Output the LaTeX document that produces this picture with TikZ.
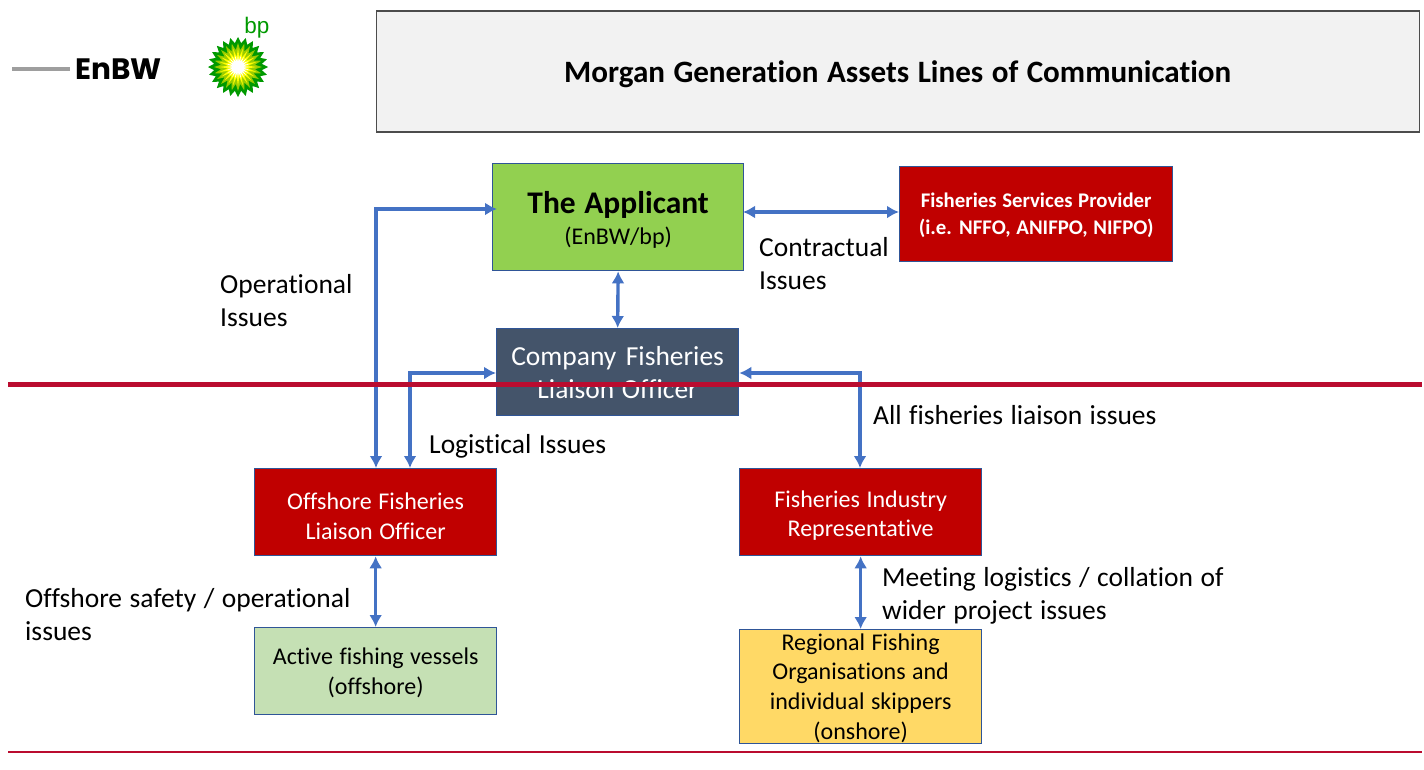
\documentclass[tikz,border=0pt]{standalone}
\usepackage{fontspec}
\setmainfont{Carlito}[Ligatures=NoCommon,WordSpace=1.2]
\newfontfamily\logofont{Poppins}
\newfontfamily\bpfont{Liberation Sans}
\usetikzlibrary{arrows.meta}
\definecolor{cblue}{HTML}{4472C4}
\definecolor{cborder}{HTML}{2F5597}
\definecolor{cred}{HTML}{C00000}
\definecolor{cline}{HTML}{BA0C2F}
\definecolor{cgreen}{HTML}{92D050}
\definecolor{cslate}{HTML}{44546A}
\definecolor{cpale}{HTML}{C5E0B4}
\definecolor{cyellow}{HTML}{FFD966}
\definecolor{bpdark}{HTML}{009900}
\definecolor{bpmid}{HTML}{99CC00}
\definecolor{bpyel}{HTML}{FFFF00}
\tikzset{
 x=1pt,y=-1pt,
 boxn/.style={draw=cborder,line width=1.3pt,minimum width=#1,inner sep=0pt,anchor=north west},
 boxn/.default=242pt,
 inbox/.style={align=center,inner sep=0pt},
 lab/.style={font=\fontsize{27.5}{33}\selectfont,align=left,anchor=west,inner sep=0pt,text=black},
 boxt/.style={font=\fontsize{24}{29.7}\selectfont},
 conn/.style={draw=cblue,line width=3.4pt,{Latex[length=12pt,width=13pt]}-{Latex[length=12pt,width=13pt]}},
 rule/.style={draw=cline},
}
\newcommand{\sunray}[3]{%
 \fill[#1] (0:#2) \foreach \k in {0,...,23}{ -- (\k*15+7.5:#3) -- (\k*15+15:#2) } -- cycle;}
\begin{document}
\begin{tikzpicture}
\useasboundingbox (0,0) rectangle (1424,769);
% logos
\coordinate (enbwa) at (12,69);
\coordinate (enbwb) at (70,69);
\draw[draw=black!38,line width=3.2pt] (enbwa) -- (enbwb);
\node[inner sep=0pt,font=\logofont\bfseries\fontsize{29.5}{29.5}\selectfont] (enbw) at (118.5,69) {EnBW};
\begin{scope}[shift={(238,67)}]
 \sunray{bpdark}{30}{24}
 \sunray{bpmid}{24}{17}
 \sunray{bpyel}{19}{10}
 \sunray{white}{12}{6}
\end{scope}
\node[inner sep=0pt,text=bpdark,font=\bpfont\fontsize{22.5}{24}\selectfont] (bp) at (257,28) {bp};
% title
\node[draw=black!70,fill=black!5,line width=1.5pt,minimum width=1043pt,minimum height=121pt,anchor=north west,inner sep=0pt] (title) at (375.5,10) {};
\node[inbox,font=\bfseries\fontsize{31.1}{36}\selectfont] (titlet) at ([yshift=-3pt]title.center) {Morgan Generation Assets Lines of Communication};
% boxes
\node[boxn=251pt,fill=cgreen,minimum height=107pt] (app) at (492,163) {};
\node[inbox] (appt) at ([yshift=-2.5pt]app.center) {\fontsize{31.5}{36}\selectfont\bfseries The Applicant\\[8pt]\fontsize{24}{29}\selectfont (EnBW/bp)};
\node[boxn=273pt,fill=cred,minimum height=95pt] (fsp) at (899,166) {};
\node[inbox,text=white,font=\bfseries\fontsize{20.8}{26.5}\selectfont] (fspt) at ([yshift=-1pt]fsp.center) {Fisheries Services Provider\\(i.e. NFFO, ANIFPO, NIFPO)};
\node[boxn,fill=cslate,minimum height=87pt] (cflo) at (496,328) {};
\node[inbox,text=white,font=\fontsize{27.5}{33}\selectfont] (cflot) at (cflo.center) {Company\hspace{2pt} Fisheries\\Liaison Officer};
\node[boxn,fill=cred,minimum height=87pt] (oflo) at (254,468) {};
\node[inbox,text=white,boxt] (oflot) at ([yshift=-4pt]oflo.center) {Offshore Fisheries\\Liaison Officer};
\node[boxn,fill=cred,minimum height=87pt] (fir) at (739,468) {};
\node[inbox,text=white,boxt] (firt) at ([yshift=-3.5pt]fir.center) {Fisheries Industry\\Representative};
\node[boxn,fill=cpale,minimum height=87pt] (afv) at (254,627) {};
\node[inbox,boxt] (afvt) at ([yshift=-1.5pt]afv.center) {Active fishing vessels\\(offshore)};
\node[boxn,fill=cyellow,minimum height=114pt] (rfo) at (739,629) {};
\node[inbox,boxt] (rfot) at ([yshift=-1.5pt]rfo.center) {Regional Fishing\\Organisations and\\individual skippers\\(onshore)};
% connectors
\coordinate (c1) at (376,209);
\coordinate (c2) at (410,373);
\coordinate (c3) at (860,373);
\draw[conn,shorten <=-5pt] (app.west |- c1) -- (c1) -- (c1 |- oflo.north);
\draw[conn] (cflo.west |- c2) -- (c2) -- (c2 |- oflo.north);
\draw[conn] (cflo.east |- c3) -- (c3) -- (c3 |- fir.north);
\coordinate (c4) at (743,212);
\draw[conn] (c4) -- (c4 -| fsp.west);
\draw[conn] (app.south) -- (cflo.north);
\draw[conn] (oflo.south) -- (afv.north);
\draw[conn] (fir.south) -- (rfo.north);
% labels
\node[lab] (l1) at (220,301) {Operational\\Issues};
\node[lab] (l2) at (759,264) {Contractual\\Issues};
\node[lab] (l3) at (429,446) {Logistical Issues};
\node[lab] (l4) at (873,415) {All fisheries liaison issues};
\node[lab] (l5) at (882,596) {Meeting logistics / collation of\\wider project issues};
\node[lab] (l6) at (25,615) {Offshore safety / operational\\issues};
% rules
\coordinate (r1) at (8,384);
\coordinate (r2) at (1422,384);
\coordinate (r3) at (8,752);
\coordinate (r4) at (1422,752);
\draw[rule,line width=5pt] (r1) -- (r2);
\draw[rule,line width=1.8pt] (r3) -- (r4);
\end{tikzpicture}
\end{document}
